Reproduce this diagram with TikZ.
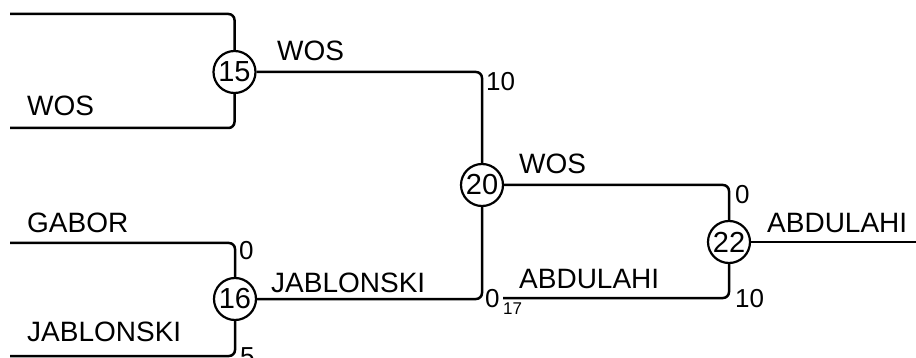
\documentclass[tikz,border=0pt]{standalone}
\usepackage{fontspec}
\setmainfont{Liberation Sans}
\begin{document}
\begin{tikzpicture}[x=1pt,y=-1pt,
  game/.style={circle,draw,line width=2.2pt,minimum size=42pt,inner sep=0pt,font=\fontsize{29}{29}\selectfont},
  wire/.style={line width=2.5pt,rounded corners=6pt},
  namelbl/.style={anchor=base west,inner sep=0pt,font=\fontsize{28}{28}\selectfont},
  scorelbl/.style={anchor=base west,inner sep=0pt,font=\fontsize{26}{26}\selectfont},
  sublbl/.style={anchor=base west,inner sep=0pt,font=\fontsize{17}{17}\selectfont}]
\useasboundingbox (0,0) rectangle (916,358);
\node[game] (n15) at (234.5,72) {15};
\node[game] (n16) at (235,299) {16};
\node[game] (n20) at (482,185) {20};
\node[game] (n22) at (729,242) {22};
\coordinate (a1) at (10,14);
\coordinate (a2) at (10,128);
\coordinate (a3) at (10,243);
\coordinate (a4) at (10,356);
\coordinate (b1) at (503,298);
\coordinate (e1) at (916,242);
\draw[wire] (a1) -| (n15.north);
\draw[wire] (a2) -| (n15.south);
\draw[wire] (a3) -| (n16.north);
\draw[wire] (a4) -| (n16.south);
\draw[wire] (n15.east) -| (n20.north);
\draw[wire] (n16.east) -| (n20.south);
\draw[wire] (n20.east) -| (n22.north);
\draw[wire] (b1) -| (n22.south);
\draw[wire] (n22.east) -- (e1);
% names
\node[namelbl] (t1) at (27,116) {WOS};
\node[namelbl] (t2) at (277,61) {WOS};
\node[namelbl] (t3) at (27,233) {GABOR};
\node[namelbl] (t4) at (27,341) {JABLONSKI};
\node[namelbl] (t5) at (271,292) {JABLONSKI};
\node[namelbl] (t6) at (519,174) {WOS};
\node[namelbl] (t7) at (519,288) {ABDULAHI};
\node[namelbl] (t8) at (767,233) {ABDULAHI};
% scores
\node[scorelbl] (s1) at (486,91) {10};
\node[scorelbl] (s2) at (239,259) {0};
\node[scorelbl] (s3) at (240,365) {5};
\node[scorelbl] (s4) at (735,204) {0};
\node[scorelbl] (s5) at (735,308) {10};
\node[scorelbl] (s6) at (485,308) {0};
\node[sublbl] (s7) at (503,314) {17};
\end{tikzpicture}
\end{document}
